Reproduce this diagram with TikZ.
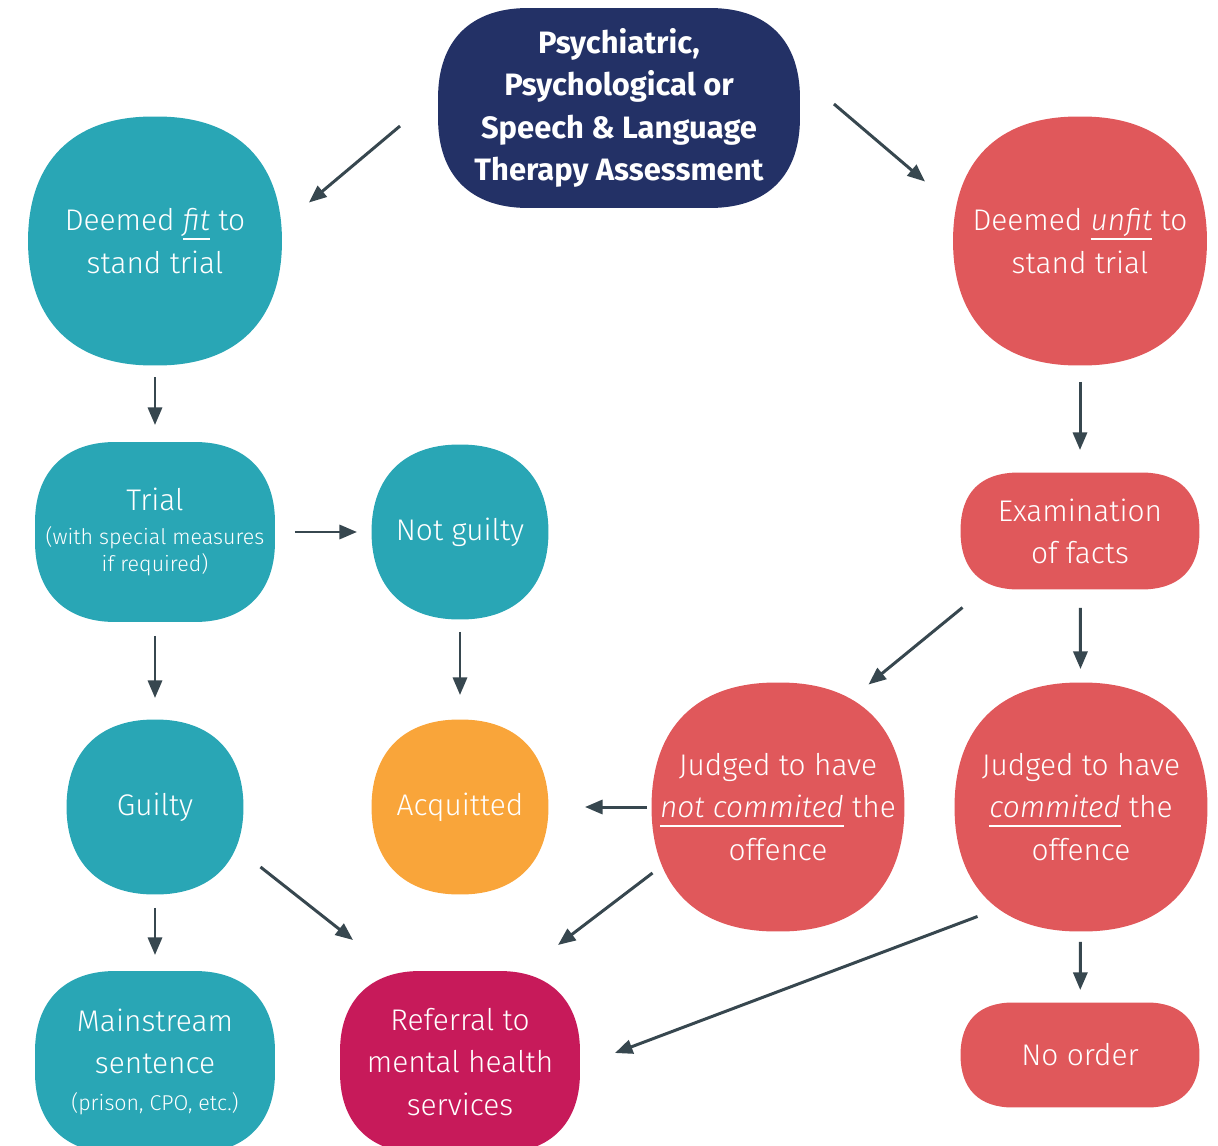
\documentclass[tikz,border=0pt]{standalone}
\usepackage{fontspec}
\setmainfont{Fira Sans}[UprightFont=* Light, ItalicFont=* Light Italic]
\newfontfamily\headfont{Fira Sans}
\usetikzlibrary{arrows.meta}
\usetikzlibrary{backgrounds}

\definecolor{navyblue}{HTML}{233166}
\definecolor{fitteal}{HTML}{29A6B5}
\definecolor{unfitred}{HTML}{E0585B}
\definecolor{acqorange}{HTML}{F9A53A}
\definecolor{refmagenta}{HTML}{C71A5A}
\definecolor{arrowslate}{HTML}{37474F}

% underline set a little below the baseline
\newcommand{\undl}[1]{\setbox0=\hbox{#1}\rlap{\rule[-5pt]{\wd0}{0.8pt}}\box0\relax}
\newcommand{\smalltxt}{\fontsize{12.2}{15.3}\selectfont}
% soft box behind a node: node, colour, corner size, control distance
\newcommand{\softbox}[4]{%
	\fill[#2] ([yshift=-#3]#1.north east)
		.. controls ([yshift=-#4]#1.north east) and ([xshift=-#4]#1.north east) .. ([xshift=-#3]#1.north east)
		-- ([xshift=#3]#1.north west)
		.. controls ([xshift=#4]#1.north west) and ([yshift=-#4]#1.north west) .. ([yshift=-#3]#1.north west)
		-- ([yshift=#3]#1.south west)
		.. controls ([yshift=#4]#1.south west) and ([xshift=#4]#1.south west) .. ([xshift=#3]#1.south west)
		-- ([xshift=-#3]#1.south east)
		.. controls ([xshift=-#4]#1.south east) and ([yshift=#4]#1.south east) .. ([yshift=#3]#1.south east)
		-- cycle;}

\begin{document}
\begin{tikzpicture}[x=0.02cm,y=-0.02cm,
	blob/.style = {text=white, align=center, inner sep=0pt, outer sep=0pt,
		font=\fontsize{17}{24}\selectfont},
	arr/.style = {-{Triangle[length=10pt,width=8pt]}, line width=1.7pt, arrowslate}]
	\useasboundingbox (0,0) rectangle (1218,1146);
	% nodes
	\node[blob, minimum width=7.24cm, minimum height=4cm,
		font=\headfont\bfseries\fontsize{17.6}{24.2}\selectfont] (top) at (619,108)
		{Psychiatric,\\Psychological or\\Speech \& Language\\Therapy Assessment};
	\node[blob, minimum width=5.08cm, minimum height=4.98cm] (fit) at (155,241)
		{Deemed \undl{\textit{fit}} to\\stand trial};
	\node[blob, minimum width=5.08cm, minimum height=4.98cm] (unfit) at (1080,241)
		{Deemed \undl{\textit{unfit}} to\\stand trial};
	\node[blob, minimum width=4.8cm, minimum height=3.6cm] (trial) at (155,532)
		{Trial\\[-5pt]\smalltxt (with special measures\\[-8.7pt]\smalltxt if required)};
	\node[blob, minimum width=3.54cm, minimum height=3.5cm] (notguilty) at (460,532)
		{Not guilty};
	\node[blob, minimum width=4.78cm, minimum height=2.34cm] (exam) at (1080,531)
		{Examination\\of facts};
	\node[blob, minimum width=3.54cm, minimum height=3.5cm] (guilty) at (155,807)
		{Guilty};
	\node[blob, minimum width=3.54cm, minimum height=3.5cm] (acquitted) at (460,807)
		{Acquitted};
	\node[blob, minimum width=5.06cm, minimum height=4.98cm] (judgednot) at (778,807)
		{Judged to have\\\undl{\textit{not commited}} the\\offence};
	\node[blob, minimum width=5.06cm, minimum height=4.98cm] (judgedcom) at (1081,807)
		{Judged to have\\\undl{\textit{commited}} the\\offence};
	\node[blob, minimum width=4.8cm, minimum height=3.64cm] (mainstream) at (155,1062)
		{Mainstream\\sentence\\[-3pt]\smalltxt (prison, CPO, etc.)};
	\node[blob, minimum width=4.8cm, minimum height=3.64cm] (referral) at (460,1062)
		{Referral to\\mental health\\services};
	\node[blob, minimum width=4.78cm, minimum height=2.1cm] (noorder) at (1080,1055)
		{No order};
	% fills
	\begin{scope}[on background layer]
		\softbox{top}{navyblue}{1.8cm}{0.65cm}
		\softbox{fit}{fitteal}{2.49cm}{0.9cm}
		\softbox{unfit}{unfitred}{2.49cm}{0.9cm}
		\softbox{trial}{fitteal}{1.6cm}{0.6cm}
		\softbox{notguilty}{fitteal}{1.75cm}{0.65cm}
		\softbox{exam}{unfitred}{1.17cm}{0.4cm}
		\softbox{guilty}{fitteal}{1.75cm}{0.65cm}
		\softbox{acquitted}{acqorange}{1.75cm}{0.65cm}
		\softbox{judgednot}{unfitred}{2.49cm}{0.9cm}
		\softbox{judgedcom}{unfitred}{2.49cm}{0.9cm}
		\softbox{mainstream}{fitteal}{1.6cm}{0.6cm}
		\softbox{referral}{refmagenta}{1.6cm}{0.6cm}
		\softbox{noorder}{unfitred}{1.05cm}{0.37cm}
	\end{scope}
	% arrows
	\draw[arr] ([shift={(-38,18)}]top.west) -- ([shift={(27,86)}]fit.north east);
	\draw[arr] ([shift={(34,-4)}]top.east) -- ([shift={(-28,65)}]unfit.north west);
	\draw[arr, shorten <=0.24cm, shorten >=0.34cm] (fit) -- (trial);
	\draw[arr, shorten <=0.33cm, shorten >=0.45cm] (unfit) -- (exam);
	\draw[arr, shorten <=0.4cm, shorten >=0.29cm] (trial) -- (notguilty);
	\draw[arr, shorten <=0.28cm, shorten >=0.43cm] (trial) -- (guilty);
	\draw[arr, shorten <=0.25cm, shorten >=0.49cm] (notguilty) -- (acquitted);
	\draw[arr] ([shift={(2,18)}]exam.south west) -- ([shift={(-36,2)}]judgednot.north east);
	\draw[arr, shorten <=0.37cm, shorten >=0.27cm] (exam) -- (judgedcom);
	\draw[arr, shorten <=0.09cm, shorten >=0.73cm] (judgednot) -- (acquitted);
	\draw[arr] ([shift={(17,60)}]guilty.east) -- ([shift={(13,-31)}]referral.north west);
	\draw[arr] ([shift={(1,66)}]judgednot.west) -- ([shift={(-22,-26)}]referral.north east);
	\draw[arr] ([shift={(23,-15)}]judgedcom.south west) -- ([shift={(35,-9)}]referral.east);
	\draw[arr, shorten <=0.27cm, shorten >=0.32cm] (guilty) -- (mainstream);
	\draw[arr, shorten <=0.21cm, shorten >=0.25cm] (judgedcom) -- (noorder);
\end{tikzpicture}
\end{document}
